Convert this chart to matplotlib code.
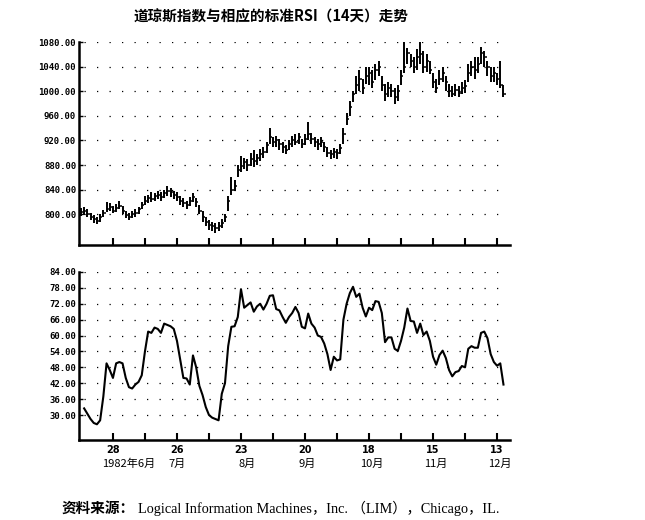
import matplotlib
matplotlib.use("Agg")
import matplotlib.pyplot as plt

# daily bars of the Dow (trading day index 0..132)
dow_high = [810, 812, 808, 802, 798, 795, 800, 807, 820, 818,
            814, 816, 822, 814, 805, 802, 806, 809, 812, 820,
            830, 832, 836, 835, 838, 836, 840, 846, 842, 838,
            836, 830, 826, 822, 828, 834, 826, 815, 805, 795,
            790, 787, 785, 788, 792, 800, 830, 860, 855, 880,
            895, 892, 890, 900, 905, 898, 906, 910, 918, 940,
            925, 928, 922, 918, 912, 920, 928, 930, 932, 922,
            930, 950, 932, 926, 922, 925, 918, 910, 905, 908,
            906, 915, 940, 965, 985, 1000, 1025, 1035, 1020, 1040,
            1040, 1035, 1045, 1050, 1025, 1012, 1015, 1012, 1005, 1010,
            1035, 1083, 1070, 1060, 1055, 1068, 1080, 1065, 1060, 1050,
            1030, 1020, 1035, 1040, 1025, 1012, 1008, 1012, 1008, 1015,
            1018, 1045, 1050, 1055, 1055, 1072, 1065, 1050, 1040, 1040,
            1030, 1050, 1010]
dow_low = [797, 798, 795, 790, 786, 784, 788, 795, 803, 805,
           802, 804, 808, 800, 794, 790, 794, 796, 800, 808,
           815, 818, 820, 822, 825, 822, 826, 830, 828, 825,
           822, 815, 812, 808, 814, 820, 812, 800, 788, 780,
           775, 772, 770, 772, 778, 788, 805, 832, 838, 860,
           868, 874, 870, 878, 876, 880, 886, 892, 900, 915,
           910, 910, 905, 900, 898, 905, 910, 912, 915, 908,
           912, 920, 915, 910, 905, 910, 902, 893, 890, 892,
           890, 898, 915, 945, 960, 982, 995, 1000, 995, 1012,
           1010, 1005, 1018, 1025, 1000, 985, 990, 990, 980, 985,
           1010, 1030, 1045, 1040, 1030, 1035, 1045, 1030, 1032, 1028,
           1005, 997, 1010, 1015, 1000, 990, 990, 992, 990, 995,
           998, 1015, 1025, 1020, 1030, 1045, 1040, 1025, 1015, 1015,
           1010, 1005, 990]
dow_close = [803, 806, 800, 796, 792, 789, 795, 802, 808, 812,
             806, 810, 814, 806, 798, 795, 800, 802, 808, 815,
             822, 826, 824, 830, 832, 828, 834, 838, 836, 832,
             828, 822, 818, 815, 822, 828, 820, 806, 795, 788,
             782, 780, 777, 780, 786, 795, 822, 840, 846, 872,
             878, 885, 880, 890, 886, 892, 898, 902, 912, 925,
             918, 920, 914, 910, 905, 915, 920, 918, 925, 915,
             922, 930, 922, 918, 915, 918, 910, 900, 898, 902,
             900, 908, 930, 955, 975, 995, 1010, 1020, 1005, 1025,
             1030, 1015, 1035, 1040, 1010, 995, 1005, 1000, 990, 1000,
             1025, 1040, 1062, 1050, 1040, 1055, 1060, 1040, 1050, 1035,
             1015, 1005, 1020, 1030, 1015, 1000, 995, 1002, 998, 1005,
             1008, 1030, 1040, 1035, 1045, 1062, 1055, 1040, 1025, 1030,
             1020, 1010, 995]

# 14-day RSI, trading day index 1..132
rsi = [32.5, 30.5, 28.5, 27, 26.5, 28, 37, 49.5, 47, 44,
       49.5, 50, 49.5, 44, 40.5, 40, 41.5, 42.5, 45, 54,
       61.5, 61, 63, 62.5, 61, 64.5, 64, 63.5, 62.5, 58,
       51, 44, 43.8, 41.5, 52.5, 48, 41, 37.5, 33, 30,
       29, 28.5, 28, 38, 42, 56, 63.3, 63.5, 67, 77.5,
       70.5, 71.5, 72.5, 69, 71, 72, 69.8, 72, 75, 75.2,
       70, 69.5, 67, 64.8, 67, 68.5, 70.8, 68.5, 63.3, 62.7,
       68.3, 64.5, 63, 60, 59.5, 57, 53, 47, 52, 50.6,
       51, 66, 72, 76, 78.4, 74.6, 75.8, 70.5, 67.2, 70.5,
       69.6, 73, 72.7, 68.5, 57.5, 59.3, 59.3, 55, 54.2, 58,
       63, 70.2, 65.5, 65.3, 61, 64.5, 60.2, 61.5, 58, 52,
       49, 52.6, 54.3, 51.5, 47, 44.6, 46.2, 46.6, 48.5, 48,
       55, 56, 55.4, 55.4, 61, 61.5, 59, 53, 50, 48.6,
       49.5, 41.5]

price_ticks = [800, 840, 880, 920, 960, 1000, 1040, 1080]
rsi_ticks = [30, 36, 42, 48, 54, 60, 66, 72, 78, 84]
day_ticks = [10, 20, 30, 40, 50, 60, 70, 80, 90, 100, 110, 120, 130]
day_labels = ["28", "", "26", "", "23", "", "20", "", "18", "", "15", "", "13"]
month_pos = [15, 30, 52, 70.6, 91, 111, 131]
month_labels = ["1982年6月", "7月", "8月", "9月", "10月", "11月", "12月"]

plt.rcParams["font.family"] = ["Noto Sans CJK SC", "DejaVu Sans"]

fig = plt.figure(figsize=(6.45, 5.2), dpi=100)
ax1 = fig.add_axes([0.1225, 0.529, 0.668, 0.390])
ax2 = fig.add_axes([0.1225, 0.154, 0.668, 0.323])

dots = (0, (1, 9))

# price bars
days = list(range(len(dow_close)))
ax1.hlines(price_ticks, 1, 131, colors="black", linestyles=dots, linewidth=0.9)
ax1.vlines(days, dow_low, dow_high, colors="black", linewidth=1.4)
ax1.hlines(dow_close, days, [d + 0.7 for d in days], colors="black", linewidth=1.1)
ax1.set_ylim(750, 1080)
ax1.set_yticks(price_ticks)

# RSI line
rsi_days = list(range(1, len(rsi) + 1))
ax2.hlines(rsi_ticks, 1, 131, colors="black", linestyles=dots, linewidth=0.9)
ax2.plot(rsi_days, rsi, color="black", linewidth=1.5)
ax2.set_ylim(20.6, 84)
ax2.set_yticks(rsi_ticks)

for ax in (ax1, ax2):
    ax.set_xlim(-0.6, 134)
    ax.set_xticks(day_ticks)
    for s in ("top", "right"):
        ax.spines[s].set_visible(False)
    for s in ("left", "bottom"):
        ax.spines[s].set_linewidth(1.8)
    ax.tick_params(axis="y", direction="in", length=3, width=1, pad=2)
    ax.tick_params(axis="x", direction="in", length=5, width=1.5)
    ax.yaxis.set_major_formatter(matplotlib.ticker.FormatStrFormatter("%.2f"))
    for lab in ax.get_yticklabels():
        lab.set_family("DejaVu Sans Mono")
        lab.set_fontsize(6.5)
        lab.set_fontweight("bold")

ax1.set_xticklabels([])
ax2.set_xticklabels(day_labels, fontsize=7, fontweight="bold", family="DejaVu Sans")
ax2.tick_params(axis="x", pad=4)

for p, m in zip(month_pos, month_labels):
    ax2.text(p, -0.14, m, transform=ax2.get_xaxis_transform(),
             ha="center", va="center", fontsize=8)

fig.text(0.42, 0.968, "道琼斯指数与相应的标准RSI（14天）走势",
         ha="center", va="center", fontsize=10.5, fontweight="bold")
fig.text(0.096, 0.023, "资料来源：", ha="left", va="center",
         fontsize=10.5, fontweight="bold")
fig.text(0.214, 0.023, "Logical Information Machines，Inc. （LIM），Chicago，IL.",
         ha="left", va="center", fontsize=10.3,
         family=["Liberation Serif", "Noto Sans CJK SC"])

fig.savefig("out.png", dpi=100)
